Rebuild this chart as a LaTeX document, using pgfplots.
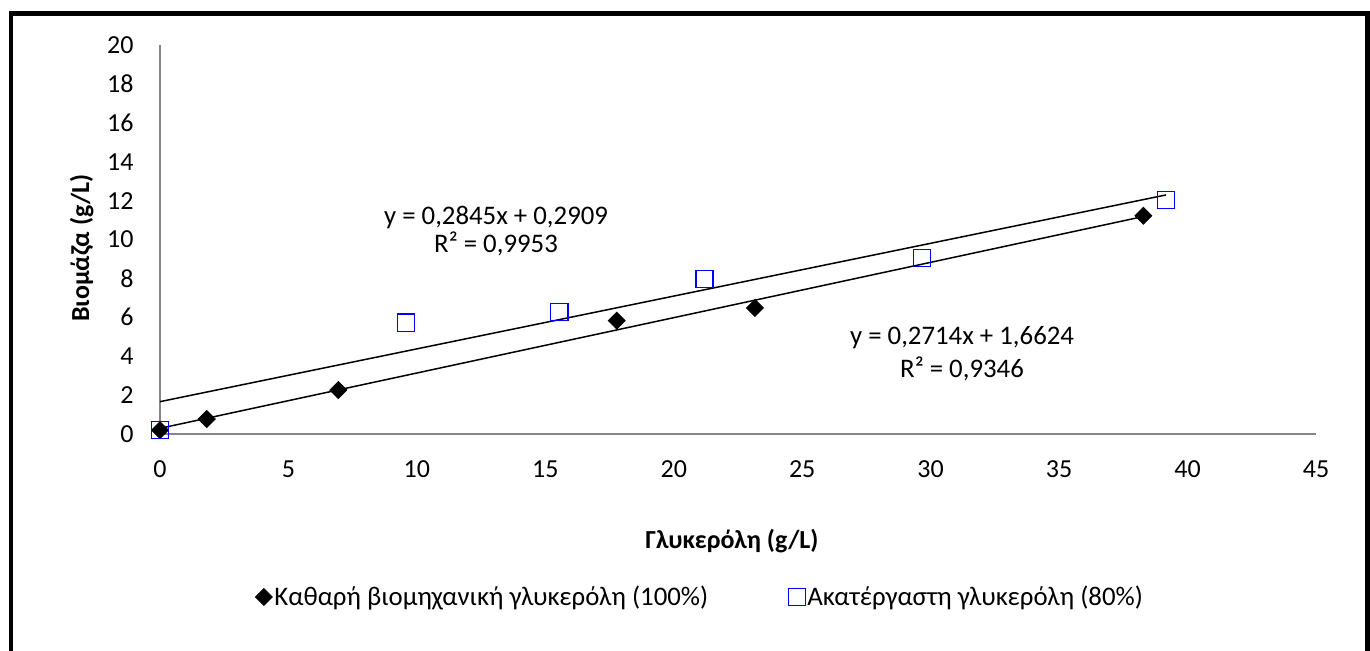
\documentclass[border=0pt]{standalone}
\usepackage{pgfplots}
\pgfplotsset{compat=1.18}
\usepackage{fontspec}
\setmainfont{Carlito}
\definecolor{axgray}{RGB}{134,134,134}
\definecolor{sqblue}{RGB}{0,0,255}
\newcommand\cf{\fontsize{13pt}{15.6pt}\selectfont}
\newcommand\cfl{\fontsize{13.4pt}{16pt}\selectfont}
\begin{document}
\begin{tikzpicture}
\useasboundingbox (0pt,0pt) rectangle (685pt,325.5pt);
\draw[line width=2.25pt, line join=miter] (5.5pt,-5pt) -- (5.5pt,318.75pt) -- (683.75pt,318.75pt) -- (683.75pt,-5pt);
\begin{axis}[
  at={(80pt,108.5pt)}, anchor=south west,
  scale only axis, width=578pt, height=194.5pt,
  xmin=0, xmax=45, ymin=0, ymax=20,
  xtick={0,5,...,45}, ytick={0,2,...,20},
  axis x line*=bottom, axis y line*=left,
  axis line style={-, draw=axgray, line width=0.75pt},
  major tick length=0pt,
  tick style={draw=none},
  /pgf/number format/assume math mode=true,
  tick label style={font=\cf},
  yticklabel style={anchor=east, inner sep=0pt, xshift=-13pt},
  xticklabel style={anchor=north, inner sep=0pt, yshift=-13pt},
  clip=false,
  legend columns=2,
  legend style={at={(0.0822,-0.419)}, anchor=west, draw=none, fill=none,
    inner sep=0pt, font=\cfl,
    nodes={inner xsep=1pt, inner ysep=0pt},
    /tikz/every even column/.append style={column sep=39pt}},
  legend image code/.code={\draw[#1] plot coordinates {(0pt,0pt)};},
]
\addplot[black, line width=0.75pt, forget plot] coordinates {(0,0.2909) (38.28,11.1817)};
\addplot[black, line width=0.75pt, forget plot] coordinates {(0,1.6624) (39.16,12.2904)};
\addplot[only marks, mark=square*, mark size=3pt, mark options={rotate=45, fill=black, draw=black}]
  coordinates {(0,0.2) (1.82,0.77) (6.94,2.26) (17.78,5.83) (23.16,6.48) (38.28,11.22)};
\addlegendentry{Καθαρή βιομηχανική γλυκερόλη (100\%)}
\addplot[only marks, mark=square, mark size=4.3pt, mark options={draw=sqblue, line width=0.75pt}]
  coordinates {(0,0.2) (9.58,5.72) (15.54,6.27) (21.2,7.97) (29.66,9.05) (39.16,12.03)};
\addlegendentry{Ακατέργαστη γλυκερόλη (80\%)}
\node[anchor=base, font=\cfl] at (axis cs:13.08,10.75) {y = 0,2845x + 0,2909};
\node[anchor=base, font=\cfl] at (axis cs:13.08,9.31) {R² = 0,9953};
\node[anchor=base, font=\cfl] at (axis cs:31.22,4.58) {y = 0,2714x + 1,6624};
\node[anchor=base, font=\cfl] at (axis cs:31.22,2.93) {R² = 0,9346};
\end{axis}
\node[anchor=base, font=\cf\bfseries] at (366pt,51pt) {Γλυκερόλη (g/L)};
\node[anchor=base, rotate=90, font=\cf\bfseries] at (44.5pt,201.5pt) {Βιομάζα (g/L)};
\end{tikzpicture}
\end{document}
